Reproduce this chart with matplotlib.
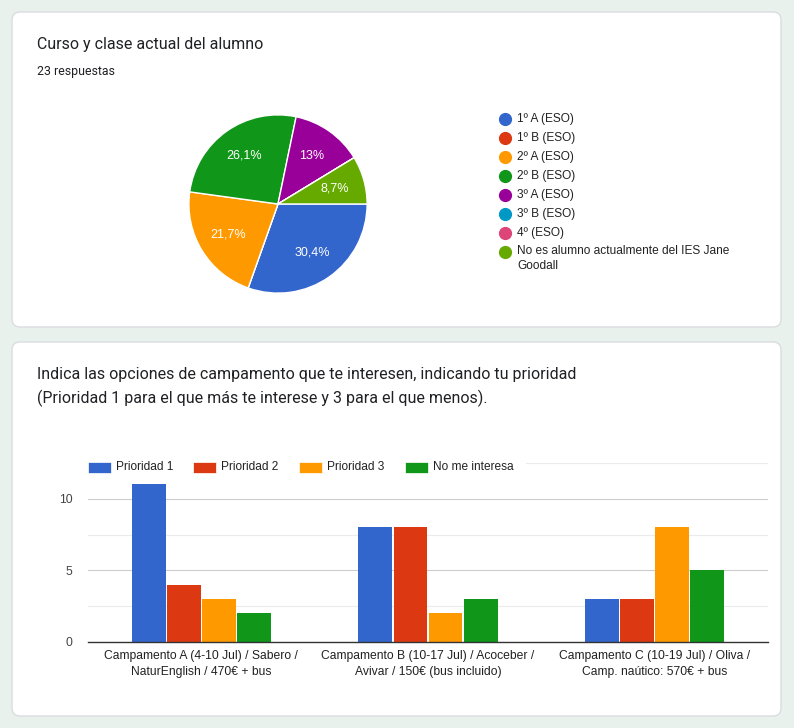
import matplotlib
matplotlib.use("Agg")
import matplotlib.pyplot as plt
from matplotlib.patches import FancyBboxPatch, Rectangle

# --- data ---
cursos = ["1º A (ESO)", "1º B (ESO)", "2º A (ESO)", "2º B (ESO)", "3º A (ESO)",
          "3º B (ESO)", "4º (ESO)", "No es alumno actualmente del IES Jane\nGoodall"]
cursos_n = [7, 0, 5, 6, 3, 0, 0, 2]
cursos_col = ["#3366cc", "#dc3912", "#ff9900", "#109618", "#990099",
              "#0099c6", "#dd4477", "#66aa00"]

campamentos = ["Campamento A (4-10 Jul) / Sabero /\nNaturEnglish / 470€ + bus",
               "Campamento B (10-17 Jul) / Acoceber /\nAvivar / 150€ (bus incluido)",
               "Campamento C (10-19 Jul) / Oliva /\nCamp. naútico: 570€ + bus"]
prioridades = ["Prioridad 1", "Prioridad 2", "Prioridad 3", "No me interesa"]
votos = [[11, 8, 3],
         [4, 8, 3],
         [3, 2, 8],
         [2, 3, 5]]
prio_col = ["#3366cc", "#dc3912", "#ff9900", "#109618"]

W, H = 794, 728
fig = plt.figure(figsize=(W / 100, H / 100), dpi=100)
fig.patch.set_facecolor("#e9f1ec")

def px(x0, y0, x1, y1):
    # pixel box (top-left origin) -> figure fraction rect
    return [x0 / W, (H - y1) / H, (x1 - x0) / W, (y1 - y0) / H]

def overlay():
    a = fig.add_axes([0, 0, 1, 1])
    a.set_xlim(0, W)
    a.set_ylim(H, 0)
    a.axis("off")
    a.patch.set_alpha(0)
    return a

bg = overlay()

for (y0, y1) in [(12, 327), (342, 716)]:
    bg.add_patch(FancyBboxPatch((12, y0), 769, y1 - y0,
                                boxstyle="round,pad=0,rounding_size=8",
                                fc="white", ec="#dadce0", lw=1))

title_font = ["Roboto", "DejaVu Sans"]
chart_font = ["Liberation Sans", "DejaVu Sans"]

bg.text(37, 44, "Curso y clase actual del alumno", fontsize=11.5,
        family=title_font, color="#202124", va="center")
bg.text(37, 72, "23 respuestas", fontsize=8.9, family=title_font,
        color="#202124", va="center")
bg.text(37, 375, "Indica las opciones de campamento que te interesen, indicando tu prioridad",
        fontsize=11.5, family=title_font, color="#202124", va="center")
bg.text(37, 398, "(Prioridad 1 para el que más te interese y 3 para el que menos).",
        fontsize=11.5, family=title_font, color="#202124", va="center")

# pie legend
ly = 119
for name, c in zip(cursos, cursos_col):
    bg.plot(505, ly, "o", ms=8.5, color=c)
    if "\n" in name:
        bg.text(517, ly - 7, name, fontsize=8.6, family=chart_font, color="#222222",
                va="top", linespacing=1.3)
    else:
        bg.text(517, ly, name, fontsize=8.6, family=chart_font, color="#222222",
                va="center")
    ly += 19

# --- pie ---
axp = fig.add_axes(px(188, 114, 368, 294))

def pct(p):
    if p < 0.5:
        return ""
    s = f"{p:.1f}".replace(".0", "").replace(".", ",")
    return s + "%"

wedges, texts, autotexts = axp.pie(cursos_n, colors=cursos_col, startangle=0,
                                   counterclock=False, autopct=pct, pctdistance=0.66,
                                   wedgeprops=dict(edgecolor="white", linewidth=1),
                                   textprops=dict(color="white", fontsize=9,
                                                  family=chart_font))
axp.set_xlim(-1.01, 1.01)
axp.set_ylim(-1.01, 1.01)
axp.set_aspect("equal")

# --- bars ---
axb = fig.add_axes(px(88, 463, 768, 642))
axb.patch.set_alpha(0)
n = len(prioridades)
bw = 0.155
for i, (name, vals, c) in enumerate(zip(prioridades, votos, prio_col)):
    xs = [k + (i - (n - 1) / 2) * bw for k in range(len(campamentos))]
    axb.bar(xs, vals, width=bw - 0.006, color=c, label=name, zorder=3)

axb.set_xlim(-0.5, len(campamentos) - 0.5)
axb.set_ylim(0, 12.5)
axb.set_yticks([0, 5, 10])
axb.set_yticks([2.5, 7.5, 12.5], minor=True)
axb.grid(axis="y", which="major", color="#cccccc", lw=0.8, zorder=0)
axb.grid(axis="y", which="minor", color="#ebebeb", lw=0.8, zorder=0)
axb.set_xticks(range(len(campamentos)))
axb.set_xticklabels(campamentos, fontsize=8.7, family=chart_font, color="#222222",
                    linespacing=1.4)
for t in axb.get_yticklabels():
    t.set_family(chart_font)
    t.set_fontsize(8.7)
    t.set_color("#444444")
axb.tick_params(axis="both", which="both", length=0)
axb.tick_params(axis="y", pad=11)
axb.tick_params(axis="x", pad=6)
for s in ["top", "right", "left"]:
    axb.spines[s].set_visible(False)
axb.spines["bottom"].set_color("#333333")
axb.spines["bottom"].set_linewidth(1)
axb.spines["bottom"].set_zorder(4)

# bar legend, drawn on top of the plot area
top = overlay()
top.add_patch(Rectangle((86, 459), 440, 17, fc="white", ec="none"))
lx = [88, 193, 299, 405]
for x, name, c in zip(lx, prioridades, prio_col):
    top.add_patch(Rectangle((x, 462), 23, 11, fc=c, ec="white", lw=0.5))
    top.text(x + 28, 467.5, name, fontsize=8.6, family=chart_font, color="#222222",
             va="center")

fig.savefig("out.png", dpi=100, facecolor=fig.get_facecolor())
